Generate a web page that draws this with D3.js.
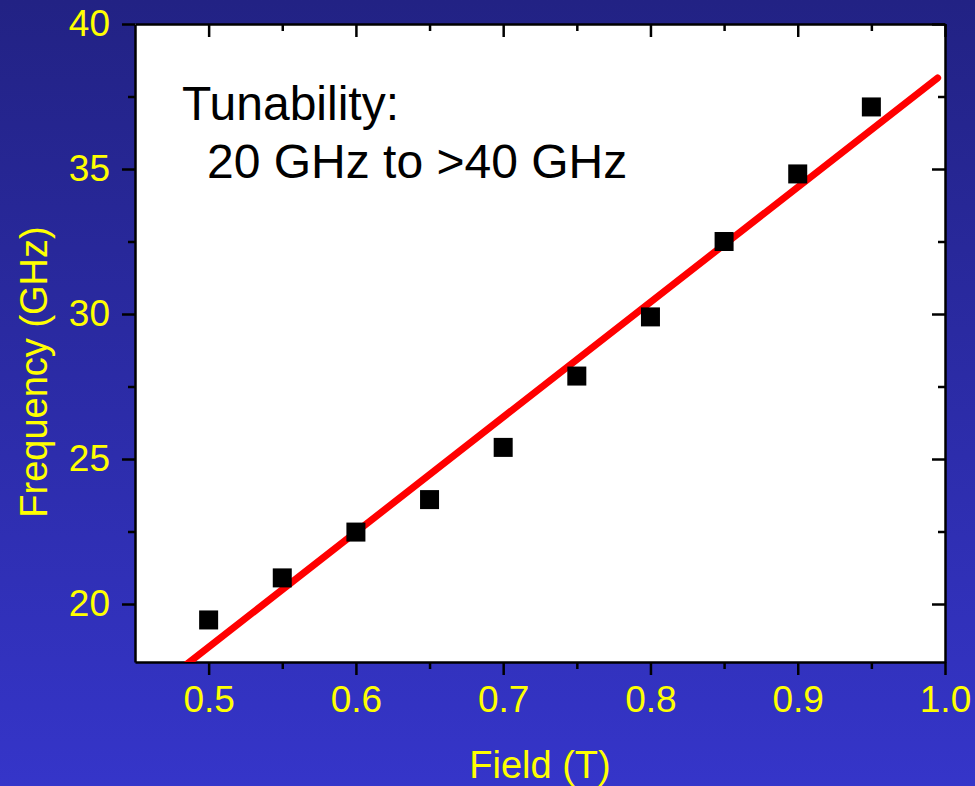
<!DOCTYPE html>
<html lang="en">
<head>
<meta charset="UTF-8">
<title>Tunability</title>
<script src="https://cdnjs.cloudflare.com/ajax/libs/d3/7.8.5/d3.min.js"></script>
<style>
  html, body { margin: 0; padding: 0; }
  body { width: 975px; height: 786px; overflow: hidden; font-family: "Liberation Sans", Arial, sans-serif; }
  .axis path, .axis line { stroke: #000; }
  .axis path { stroke-width: 2.5px; }
  .axis line { stroke-width: 2.5px; }
  .axis text { fill: #ffff00; font-size: 37px; font-family: "Liberation Sans", Arial, sans-serif; }
</style>
</head>
<body>
<svg width="975" height="786"></svg>
<script>
// measured points
const field = [0.50, 0.55, 0.60, 0.65, 0.70, 0.75, 0.80, 0.85, 0.90, 0.95];
const freq  = [19.45, 20.9, 22.48, 23.6, 25.4, 27.86, 29.9, 32.5, 34.83, 37.14];

// linear fit endpoints
const fitField = [0.482, 0.995];
const fitFreq  = [17.8, 38.14];

const xMajor = [0.5, 0.6, 0.7, 0.8, 0.9, 1.0];
const xMinor = [0.55, 0.65, 0.75, 0.85, 0.95];
const yMajor = [20, 25, 30, 35, 40];
const yMinor = [22.5, 27.5, 32.5, 37.5];

const margin = {left: 135, right: 30, top: 24, bottom: 124};
const W = 975, H = 786;

const svg = d3.select("svg");

// background gradient
const defs = svg.append("defs");
const grad = defs.append("linearGradient").attr("id", "bg")
    .attr("x1", 0).attr("y1", 0).attr("x2", 0).attr("y2", 1);
grad.append("stop").attr("offset", "0%").attr("stop-color", "#222284");
grad.append("stop").attr("offset", "100%").attr("stop-color", "#3535c9");
svg.append("rect").attr("width", W).attr("height", H).attr("fill", "url(#bg)");

const x = d3.scaleLinear().domain([0.45, 1.0]).range([margin.left, W - margin.right]);
const y = d3.scaleLinear().domain([18, 40]).range([H - margin.bottom, margin.top]);

defs.append("clipPath").attr("id", "plotClip")
  .append("rect")
    .attr("x", x(0.45)).attr("y", y(40))
    .attr("width", x(1.0) - x(0.45)).attr("height", y(18) - y(40));

// plot area
svg.append("rect")
    .attr("x", x(0.45)).attr("y", y(40))
    .attr("width", x(1.0) - x(0.45)).attr("height", y(18) - y(40))
    .attr("fill", "#fff");

const fmtX = d => d3.format(".1f")(d);

// bottom axis
const gB = svg.append("g").attr("class", "axis").attr("transform", `translate(0,${y(18)})`);
gB.call(d3.axisBottom(x).tickValues(xMajor).tickFormat(fmtX).tickSize(13).tickSizeOuter(0));
gB.selectAll(".tick text").attr("y", 24).attr("dy", "0.71em");
svg.append("g").attr("class", "axis").attr("transform", `translate(0,${y(18)})`)
    .call(d3.axisBottom(x).tickValues(xMinor).tickFormat("").tickSize(7).tickSizeOuter(0))
    .select(".domain").remove();

// top axis (inward)
const gT = svg.append("g").attr("class", "axis").attr("transform", `translate(0,${y(40)})`);
gT.call(d3.axisBottom(x).tickValues(xMajor).tickFormat("").tickSize(13).tickSizeOuter(0));
svg.append("g").attr("class", "axis").attr("transform", `translate(0,${y(40)})`)
    .call(d3.axisBottom(x).tickValues(xMinor).tickFormat("").tickSize(7).tickSizeOuter(0))
    .select(".domain").remove();

// left axis
const gL = svg.append("g").attr("class", "axis").attr("transform", `translate(${x(0.45)},0)`);
gL.call(d3.axisLeft(y).tickValues(yMajor).tickSize(13).tickSizeOuter(0));
gL.selectAll(".tick text").attr("x", -25);
svg.append("g").attr("class", "axis").attr("transform", `translate(${x(0.45)},0)`)
    .call(d3.axisLeft(y).tickValues(yMinor).tickFormat("").tickSize(7).tickSizeOuter(0))
    .select(".domain").remove();

// right axis (inward)
svg.append("g").attr("class", "axis").attr("transform", `translate(${x(1.0)},0)`)
    .call(d3.axisLeft(y).tickValues(yMajor).tickFormat("").tickSize(13).tickSizeOuter(0));
svg.append("g").attr("class", "axis").attr("transform", `translate(${x(1.0)},0)`)
    .call(d3.axisLeft(y).tickValues(yMinor).tickFormat("").tickSize(7).tickSizeOuter(0))
    .select(".domain").remove();

// fit line
svg.append("path")
    .datum(fitField.map((f, i) => [f, fitFreq[i]]))
    .attr("clip-path", "url(#plotClip)")
    .attr("fill", "none")
    .attr("stroke", "#ff0000")
    .attr("stroke-width", 7)
    .attr("stroke-linecap", "round")
    .attr("d", d3.line().x(d => x(d[0])).y(d => y(d[1])));

// data squares
const sq = 19;
svg.append("g").selectAll("rect")
  .data(field.map((f, i) => [f, freq[i]]))
  .join("rect")
    .attr("x", d => x(d[0]) - sq / 2)
    .attr("y", d => y(d[1]) - sq / 2)
    .attr("width", sq).attr("height", sq)
    .attr("fill", "#000");

// annotation
const note = svg.append("text")
    .attr("font-size", 48)
    .attr("fill", "#000");
note.append("tspan").attr("x", 182).attr("y", 120).text("Tunability:");
note.append("tspan").attr("x", 207).attr("y", 178).text("20 GHz to >40 GHz");

// axis titles
svg.append("text")
    .attr("x", x(0.725)).attr("y", 778)
    .attr("text-anchor", "middle")
    .attr("font-size", 38)
    .attr("fill", "#ffff00")
    .text("Field (T)");

svg.append("text")
    .attr("transform", "translate(47,372) rotate(-90)")
    .attr("text-anchor", "middle")
    .attr("font-size", 38)
    .attr("fill", "#ffff00")
    .text("Frequency (GHz)");
</script>
</body>
</html>
